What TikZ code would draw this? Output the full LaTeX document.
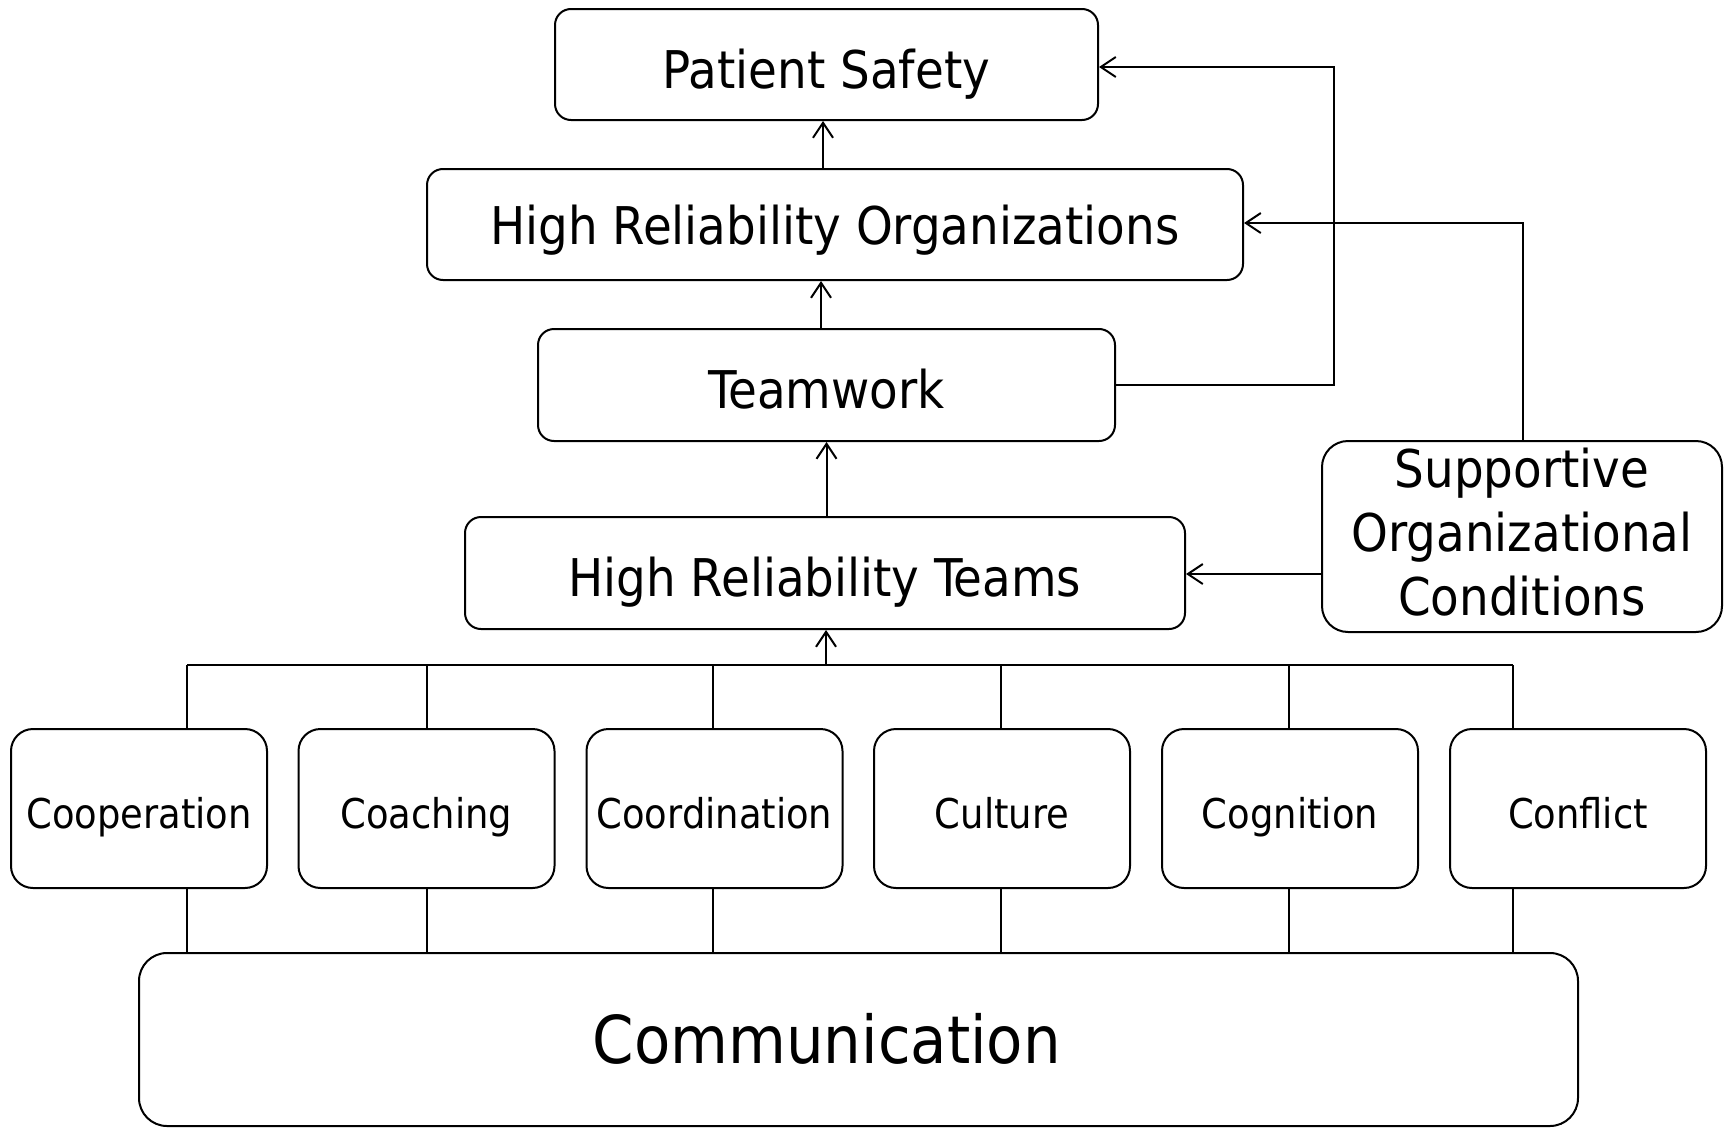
\documentclass[tikz,border=0pt]{standalone}
\usepackage{fontspec}
\IfFontExistsTF{DejaVu Sans Condensed}{\setmainfont{DejaVu Sans Condensed}}{\setmainfont{DejaVu Sans}}
\usetikzlibrary{arrows.meta,calc}
\begin{document}
\begin{tikzpicture}[x=1pt,y=-1pt,
  box/.style={draw,line width=2pt,rounded corners=16pt,inner sep=0pt,align=center},
  bigtxt/.style={font=\fontsize{52}{64}\selectfont},
  smalltxt/.style={font=\fontsize{41}{50}\selectfont,text height=40pt,text depth=0pt},
  bl/.style={text height=#1,text depth=0pt},
  sbox/.style={box,smalltxt,rounded corners=22pt,minimum width=256pt,minimum height=159pt},
  link/.style={line width=2pt},
  arr/.style={line width=2pt,-{Straight Barb[length=15pt,width=20pt,line width=2pt]}}]
\useasboundingbox (0,0) rectangle (1729,1127);
\node[box,bigtxt,bl=47pt,minimum width=543pt,minimum height=111pt] (ps) at (826.5,64.5) {Patient Safety};
\node[box,bigtxt,bl=40pt,minimum width=816pt,minimum height=111pt] (hro) at (835,224.5) {High Reliability Organizations};
\node[box,bigtxt,bl=46pt,minimum width=577pt,minimum height=112pt] (tw) at (826.5,385) {Teamwork};
\node[box,bigtxt,bl=46pt,minimum width=720pt,minimum height=112pt] (hrt) at (825,573) {High Reliability Teams};
\node[box,rounded corners=26pt,minimum width=400pt,minimum height=191pt] (soc) at (1522,536.5) {};
\node[bigtxt,align=center,inner sep=0pt] (soctxt) at (1522,532) {Supportive\\Organizational\\Conditions};
\node[sbox] (b1) at (139,808.5) {Cooperation};
\node[sbox] (b2) at (426.5,808.5) {Coaching};
\node[sbox] (b3) at (714.5,808.5) {Coordination};
\node[sbox] (b4) at (1002,808.5) {Culture};
\node[sbox] (b5) at (1290,808.5) {Cognition};
\node[sbox] (b6) at (1578,808.5) {Conflict};
\node[box,rounded corners=28pt,minimum width=1439pt,minimum height=173pt] (comm) at (858.5,1039.5) {};
\node[font=\fontsize{66}{70}\selectfont,bl=47pt,inner sep=0pt] (commtxt) at (827,1039.5) {Communication};
% bus
\coordinate (busL) at (187,665);
\coordinate (busR) at (1513,665);
\coordinate (busM) at (826,665);
\draw[link] (busL) -- (busR);
\foreach \n/\xx in {b1/187,b2/427,b3/713,b4/1001,b5/1289,b6/1513}{
  \draw[link] (\xx,665) -- (\n.north -| {(\xx,0)});
  \draw[link] (\n.south -| {(\xx,0)}) -- (comm.north -| {(\xx,0)});
}
\coordinate (a1) at (823,0);
\coordinate (a2) at (821,0);
\coordinate (a3) at (826.5,0);
\draw[arr] (busM) -- (hrt.south -| busM);
\draw[arr] (hrt.north -| a3) -- (tw.south -| a3);
\draw[arr] (tw.north -| a2) -- (hro.south -| a2);
\draw[arr] (hro.north -| a1) -- (ps.south -| a1);
\coordinate (c1) at (1334,67);
\draw[arr] (tw.east) -| (c1) -- (ps.east |- c1);
\coordinate (c2) at (1523,223);
\draw[arr] (soc.north -| c2) -- (c2) -- (hro.east |- c2);
\coordinate (c3) at (0,574);
\draw[arr] (soc.west |- c3) -- (hrt.east |- c3);
\end{tikzpicture}
\end{document}
